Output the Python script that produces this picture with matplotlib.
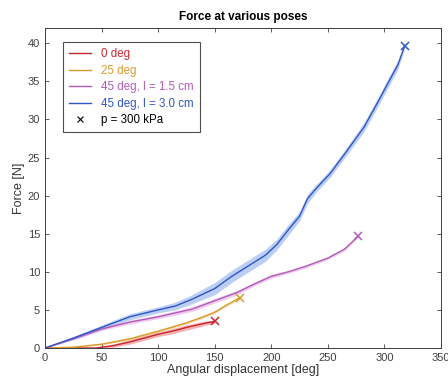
import matplotlib.pyplot as plt
from matplotlib.lines import Line2D
import numpy as np

plt.rcParams['font.family'] = 'sans-serif'
plt.rcParams['font.sans-serif'] = ['Liberation Sans', 'DejaVu Sans']

# Data
red_x = [0, 45, 60, 75, 90, 100, 115, 125, 140, 150]
red_y = [0, 0, 0.3, 0.8, 1.4, 1.8, 2.3, 2.7, 3.2, 3.5]
red_sd = [0, 0.05, 0.2, 0.3, 0.3, 0.3, 0.35, 0.35, 0.3, 0.2]

orange_x = [0, 25, 50, 75, 100, 125, 140, 150, 160, 165, 172]
orange_y = [0, 0.1, 0.5, 1.2, 2.2, 3.3, 4.1, 4.7, 5.6, 6.0, 6.6]
orange_sd = [0, 0.05, 0.1, 0.15, 0.15, 0.15, 0.15, 0.15, 0.15, 0.15, 0.1]

pink_x = [0, 25, 50, 75, 100, 115, 130, 150, 170, 185, 200, 215, 230, 250, 265, 277]
pink_y = [0, 1.2, 2.5, 3.4, 4.1, 4.6, 5.1, 6.2, 7.3, 8.4, 9.4, 10.0, 10.7, 11.8, 13.0, 14.7]
pink_sd = [0, 0.15, 0.2, 0.25, 0.25, 0.3, 0.3, 0.3, 0.3, 0.25, 0.25, 0.2, 0.2, 0.2, 0.2, 0.15]

blue_x = [0, 25, 50, 75, 100, 115, 130, 150, 165, 180, 195, 205, 215, 225,
          232, 240, 252, 265, 282, 295, 304, 312, 318]
blue_y = [0, 1.3, 2.7, 4.1, 5.0, 5.5, 6.4, 7.8, 9.4, 10.8, 12.2, 13.6, 15.5, 17.3,
          19.6, 21.0, 22.9, 25.5, 29.0, 32.5, 35.0, 37.2, 39.7]
blue_sd = [0, 0.2, 0.3, 0.4, 0.4, 0.5, 0.6, 0.8, 0.8, 0.8, 0.8, 0.7, 0.7, 0.6,
           0.6, 0.5, 0.5, 0.5, 0.6, 0.6, 0.6, 0.6, 0.3]

labels = ['0 deg', '25 deg', '45 deg, l = 1.5 cm', '45 deg, l = 3.0 cm']
colors = ['#c8262e', '#d99a2b', '#b25cb8', '#2f55c4']
fills = ['#f08080', '#f2c27a', '#e6a8e6', '#8fb0ee']

series = [(red_x, red_y, red_sd), (orange_x, orange_y, orange_sd),
          (pink_x, pink_y, pink_sd), (blue_x, blue_y, blue_sd)]

fig = plt.figure(figsize=(4.48, 3.9), dpi=100)
ax = fig.add_axes([45 / 448, 42 / 390, 396 / 448, 320 / 390])

handles = []
for (x, y, sd), c, f, lab in zip(series, colors, fills, labels):
    x = np.array(x); y = np.array(y); sd = np.array(sd)
    ax.fill_between(x, y - sd, y + sd, color=f, alpha=0.6, lw=0)
    h, = ax.plot(x, y, color=c, lw=1.0, label=lab)
    ax.plot(x[-1], y[-1], marker='x', color=c, ms=6, mew=1.1)
    handles.append(h)

handles.append(Line2D([], [], ls='none', marker='x', color='black', ms=4, mew=0.8,
                      label='p = 300 kPa'))

ax.set_xlim(0, 350)
ax.set_ylim(0, 42)
ax.set_xticks(range(0, 351, 50))
ax.set_yticks(range(0, 41, 5))
ax.tick_params(direction='in', top=True, right=True, labelsize=8,
               colors='#404040', length=3, width=0.6)
for s in ax.spines.values():
    s.set_color('#404040')
    s.set_linewidth(0.7)

ax.set_xlabel('Angular displacement [deg]', fontsize=9, color='#333333', labelpad=1)
ax.set_ylabel('Force [N]', fontsize=9, color='#333333', labelpad=2)
ax.set_title('Force at various poses', fontsize=8.5, fontweight='bold', pad=6)

leg = ax.legend(handles=handles, loc='upper left', bbox_to_anchor=(0.045, 0.956),
                borderaxespad=0, fontsize=8.3, frameon=True, fancybox=False,
                edgecolor='#222222', handlelength=1.9, handletextpad=0.85,
                borderpad=0.55, labelspacing=0.38)
leg.get_frame().set_linewidth(0.8)
for t, c in zip(leg.get_texts(), colors + ['black']):
    t.set_color(c)

fig.savefig('out.png', dpi=100)
